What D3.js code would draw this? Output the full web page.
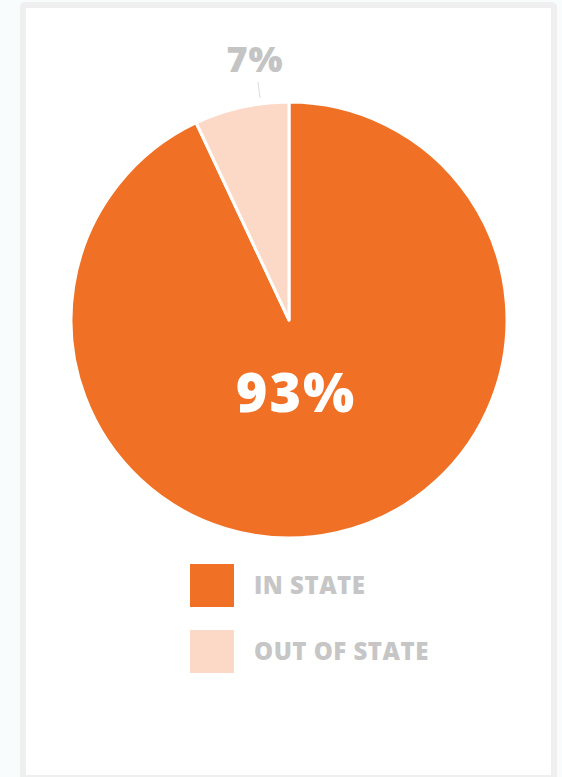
<!DOCTYPE html>
<html>
<head>
<meta charset="utf-8">
<script src="https://cdn.jsdelivr.net/npm/d3@7"></script>
<style>
  html, body { margin: 0; padding: 0; background: #f8fcfd; }
  svg { display: block; }
</style>
</head>
<body>
<svg id="chart" width="562" height="777"></svg>
<script>
// Residency split of the group
const categories = ["IN STATE", "OUT OF STATE"];
const values = [93, 7];
const valueLabels = ["93%", "7%"];
const colors = ["#f07126", "#fcd9c6"];

const svg = d3.select("#chart");
const font = "'Open Sans', 'DejaVu Sans', sans-serif";

// Card frame
svg.append("rect")
  .attr("x", 20).attr("y", 2).attr("width", 537).attr("height", 780)
  .attr("rx", 5).attr("fill", "#efefef");
svg.append("rect")
  .attr("x", 26).attr("y", 8).attr("width", 525).attr("height", 767)
  .attr("fill", "#ffffff");

const cx = 289, cy = 320, radius = 218;

const pie = d3.pie().sort(null).value(d => d)
  .startAngle(0).endAngle(2 * Math.PI);
const arcs = pie(values);
const arc = d3.arc().innerRadius(0).outerRadius(radius);

const g = svg.append("g").attr("transform", `translate(${cx},${cy})`);

g.selectAll("path.slice")
  .data(arcs)
  .join("path")
  .attr("class", "slice")
  .attr("d", arc)
  .attr("fill", (d, i) => colors[i])
  .attr("stroke", "#ffffff")
  .attr("stroke-width", 3)
  .attr("stroke-linejoin", "round");

// Large value label inside the main slice
g.append("text")
  .attr("x", 7).attr("y", 92)
  .attr("text-anchor", "middle")
  .attr("font-family", font)
  .attr("font-weight", 800)
  .attr("font-size", 54)
  .attr("letter-spacing", 2)
  .attr("fill", "#ffffff")
  .text(valueLabels[0]);

// Small slice label above the pie with a leader line
g.append("line")
  .attr("x1", -31).attr("y1", -radius - 20)
  .attr("x2", -29).attr("y2", -radius - 4)
  .attr("stroke", "#dcdcdc").attr("stroke-width", 1);
g.append("text")
  .attr("x", -34).attr("y", -radius - 30)
  .attr("text-anchor", "middle")
  .attr("font-family", font)
  .attr("font-weight", 800)
  .attr("font-size", 36)
  .attr("letter-spacing", 1)
  .attr("fill", "#c4c4c4")
  .text(valueLabels[1]);

// Legend
const legend = svg.append("g").attr("transform", "translate(190,564)");
const item = legend.selectAll("g.item")
  .data(categories)
  .join("g")
  .attr("class", "item")
  .attr("transform", (d, i) => `translate(0,${i * 66})`);
item.append("rect")
  .attr("width", 44).attr("height", 43)
  .attr("fill", (d, i) => colors[i]);
item.append("text")
  .attr("x", 64).attr("y", 30)
  .attr("font-family", font)
  .attr("font-weight", 800)
  .attr("font-size", 24)
  .attr("letter-spacing", 0.5)
  .attr("fill", "#c6c6c6")
  .text(d => d);
</script>
</body>
</html>
